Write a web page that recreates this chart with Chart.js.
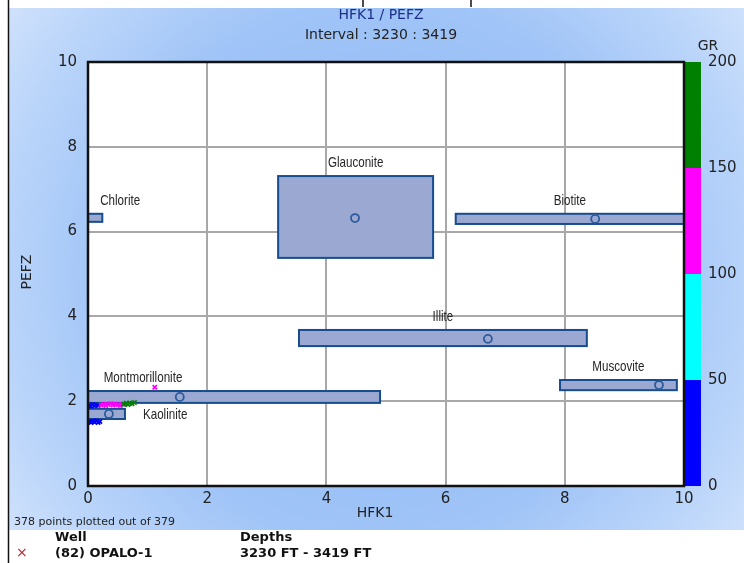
<!DOCTYPE html>
<html><head><meta charset="utf-8">
<script src="https://cdn.jsdelivr.net/npm/chart.js@4/dist/chart.umd.min.js"></script>
<style>html,body{margin:0;padding:0;background:#fff;overflow:hidden}
#wrap{position:relative;width:744px;height:563px}
canvas{position:absolute;left:0;top:0}
</style></head><body><div id="wrap"><canvas id="c" width="744" height="563"></canvas></div>
<script>
// ---- data ----
const minerals = ['Chlorite','Glauconite','Biotite','Illite','Muscovite','Montmorillonite','Kaolinite'];
const boxXMin = [-0.3, 3.19, 6.17, 3.54, 7.92, -0.3, -0.3];
const boxXMax = [0.24, 5.79, 10.3, 8.37, 9.88, 4.90, 0.62];
const boxYMin = [6.23, 5.38, 6.18, 3.30, 2.26, 1.96, 1.58];
const boxYMax = [6.42, 7.31, 6.42, 3.68, 2.50, 2.24, 1.82];
const centerX = [null, 4.48, 8.51, 6.71, 9.58, 1.54, 0.35];
const centerY = [null, 6.32, 6.30, 3.47, 2.38, 2.10, 1.70];

const ptX  = [0.02,0.05,0.08,0.11,0.14,0.17,0.20, 0.02,0.05,0.08,0.11,0.14,0.17, 0.22,0.26,0.30,0.34,0.38,0.42,0.46,0.50,0.54,0.58, 0.60,0.64,0.67,0.70,0.74,0.78, 1.12];
const ptY  = [1.52,1.50,1.53,1.51,1.54,1.50,1.52, 1.90,1.88,1.92,1.89,1.91,1.90, 1.91,1.93,1.90,1.92,1.94,1.91,1.93,1.92,1.90,1.93, 1.93,1.95,1.92,1.96,1.94,1.97, 2.33];
const ptGR = [22,30,26,35,28,40,33, 35,42,30,45,38,48, 110,125,118,132,140,115,128,122,136,145, 155,162,158,170,175,168, 124];

const xTicks = [0,2,4,6,8,10];
const yTicks = [0,2,4,6,8,10];
const grTicks = [0,50,100,150,200];
const grBandMin = [0,50,100,150];
const grBandMax = [50,100,150,200];
const grBandColor = ['#0000ff','#00ffff','#ff00ff','#008000'];

const titleText = 'HFK1 / PEFZ';
const subtitleText = 'Interval : 3230 : 3419';
const xTitle = 'HFK1';
const yTitle = 'PEFZ';
const grTitle = 'GR';
const countText = '378 points plotted out of 379';
const legendWell = '(82) OPALO-1';
const legendDepths = '3230 FT - 3419 FT';

// ---- styles (not data) ----
const labelStyle = {Chlorite:{dx:25}, Montmorillonite:{dx:-91}, Kaolinite:{right:true}};
function grColor(v){
  for(let i=0;i<grBandMin.length;i++){ if(v>=grBandMin[i] && v<grBandMax[i]) return grBandColor[i]; }
  return grBandColor[grBandColor.length-1];
}

const centers = [];
centerX.forEach((x,i)=>{ if(x!==null) centers.push({x:x,y:centerY[i]}); });
const pts = ptX.map((x,i)=>({x:x,y:ptY[i]}));

function narrowText(ctx, txt, x, y, align){
  const sc=0.8;
  const w=ctx.measureText(txt).width*sc;
  let lx = align==='center' ? x-w/2 : x;
  ctx.save(); ctx.translate(lx,y); ctx.scale(sc,1); ctx.textAlign='left'; ctx.fillText(txt,0,0); ctx.restore();
}

const decor = {
  id:'decor',
  beforeDraw(chart){
    const ctx=chart.ctx, ca=chart.chartArea;
    ctx.save();
    ctx.fillStyle='#fff'; ctx.fillRect(0,0,744,563);
    const g=ctx.createRadialGradient(380,270,0,380,270,540);
    g.addColorStop(0,'#8cb6f4');
    g.addColorStop(0.5,'#a0c4f7');
    g.addColorStop(0.72,'#bcd6fa');
    g.addColorStop(0.9,'#d8e7fc');
    g.addColorStop(1,'#f2f7ff');
    ctx.fillStyle=g; ctx.fillRect(9,8,735,522);
    ctx.fillStyle='#fff'; ctx.fillRect(ca.left,ca.top,ca.right-ca.left,ca.bottom-ca.top);
    ctx.strokeStyle='#111'; ctx.lineWidth=1.5;
    ctx.beginPath(); ctx.moveTo(8.5,0); ctx.lineTo(8.5,563);
    ctx.moveTo(363,0); ctx.lineTo(363,7); ctx.moveTo(471,0); ctx.lineTo(471,7); ctx.stroke();
    ctx.restore();
  },
  beforeDatasetsDraw(chart){
    const ctx=chart.ctx, ca=chart.chartArea, sx=chart.scales.x, sy=chart.scales.y, gr=chart.scales.gr;
    ctx.save();
    ctx.beginPath(); ctx.rect(ca.left,ca.top,ca.right-ca.left,ca.bottom-ca.top); ctx.clip();
    for(let i=0;i<minerals.length;i++){
      const x0=sx.getPixelForValue(boxXMin[i]), x1=sx.getPixelForValue(boxXMax[i]);
      const y0=sy.getPixelForValue(boxYMax[i]), y1=sy.getPixelForValue(boxYMin[i]);
      ctx.fillStyle='#9aa8d2'; ctx.fillRect(x0,y0,x1-x0,y1-y0);
      ctx.strokeStyle='#174c8e'; ctx.lineWidth=2; ctx.strokeRect(x0,y0,x1-x0,y1-y0);
    }
    ctx.restore();
    ctx.save();
    for(let i=0;i<grBandMin.length;i++){
      const t=gr.getPixelForValue(grBandMax[i]), b=gr.getPixelForValue(grBandMin[i]);
      ctx.fillStyle=grBandColor[i]; ctx.fillRect(ca.right+1,t,16,b-t);
    }
    ctx.restore();
  },
  afterDatasetsDraw(chart){
    const ctx=chart.ctx, ca=chart.chartArea, sx=chart.scales.x, sy=chart.scales.y;
    ctx.save();
    // mineral labels
    ctx.font='14.5px "Liberation Sans",Arial,sans-serif';
    ctx.fillStyle='#262626'; ctx.textBaseline='middle';
    for(let i=0;i<minerals.length;i++){
      const st=labelStyle[minerals[i]]||{};
      const x0=Math.max(ca.left,sx.getPixelForValue(boxXMin[i])), x1=Math.min(ca.right,sx.getPixelForValue(boxXMax[i]));
      const top=sy.getPixelForValue(boxYMax[i]), bot=sy.getPixelForValue(boxYMin[i]);
      if(st.right){ narrowText(ctx, minerals[i], x1+18, (top+bot)/2+1, 'left'); }
      else { narrowText(ctx, minerals[i], (x0+x1)/2+(st.dx||0), top-13, 'center'); }
    }
    // plot border
    ctx.strokeStyle='#111'; ctx.lineWidth=2.5;
    ctx.strokeRect(ca.left,ca.top,ca.right-ca.left,ca.bottom-ca.top);
    // titles
    ctx.textAlign='center';
    ctx.fillStyle='#1c2f8a'; ctx.font='14px "DejaVu Sans",sans-serif';
    ctx.fillText(titleText,381,15);
    ctx.fillStyle='#222'; ctx.font='14px "DejaVu Sans",sans-serif';
    ctx.fillText(subtitleText,381,35);
    ctx.fillText(grTitle,708,46);
    ctx.fillText(xTitle,375,513);
    ctx.save(); ctx.translate(27,272); ctx.rotate(-Math.PI/2); ctx.fillText(yTitle,0,0); ctx.restore();
    // footer
    ctx.textAlign='left';
    ctx.font='11px "DejaVu Sans",sans-serif'; ctx.fillStyle='#222';
    ctx.fillText(countText,14,522);
    ctx.font='bold 13px "DejaVu Sans",sans-serif'; ctx.fillStyle='#111';
    ctx.fillText('Well',55,538); ctx.fillText('Depths',240,538);
    ctx.fillText(legendWell,55,554); ctx.fillText(legendDepths,240,554);
    ctx.fillStyle='#c0202a'; ctx.font='14px "DejaVu Sans",sans-serif';
    ctx.fillText('\u00d7',16,553);
    ctx.restore();
  }
};

const tickFont = {family:'DejaVu Sans', size:15};
new Chart(document.getElementById('c'), {
  type:'scatter',
  data:{datasets:[
    {label:'Centres', data:centers, pointStyle:'circle', pointRadius:4, pointBorderWidth:1.8,
     borderColor:'#2d5a9a', backgroundColor:'rgba(0,0,0,0)', pointHoverRadius:4},
    {label:'GR', data:pts, pointStyle:'crossRot', pointRadius:3, pointBorderWidth:1.8,
     borderColor:ptGR.map(grColor), backgroundColor:ptGR.map(grColor), pointHoverRadius:3}
  ]},
  plugins:[decor],
  options:{
    responsive:false, animation:false, devicePixelRatio:1,
    layout:{padding:{left:0,right:0,top:62,bottom:0}},
    plugins:{legend:{display:false}, tooltip:{enabled:false}},
    events:[],
    scales:{
      x:{type:'linear', min:0, max:10, afterBuildTicks(s){ s.ticks=xTicks.map(v=>({value:v})); },
         ticks:{padding:4, color:'#222', font:tickFont, maxRotation:0},
         grid:{color:'#a8a8a8', lineWidth:2, drawTicks:false}, border:{display:false},
         afterFit(s){ s.height=77; }},
      y:{type:'linear', min:0, max:10, afterBuildTicks(s){ s.ticks=yTicks.map(v=>({value:v})); },
         ticks:{padding:11, color:'#222', font:tickFont},
         grid:{color:'#a8a8a8', lineWidth:2, drawTicks:false}, border:{display:false},
         afterFit(s){ s.width=88; }},
      gr:{type:'linear', position:'right', min:0, max:200, afterBuildTicks(s){ s.ticks=grTicks.map(v=>({value:v})); },
         ticks:{padding:24, color:'#222', font:tickFont},
         grid:{display:false, drawTicks:false}, border:{display:false},
         afterFit(s){ s.width=60; }}
    }
  }
});
</script></body></html>
